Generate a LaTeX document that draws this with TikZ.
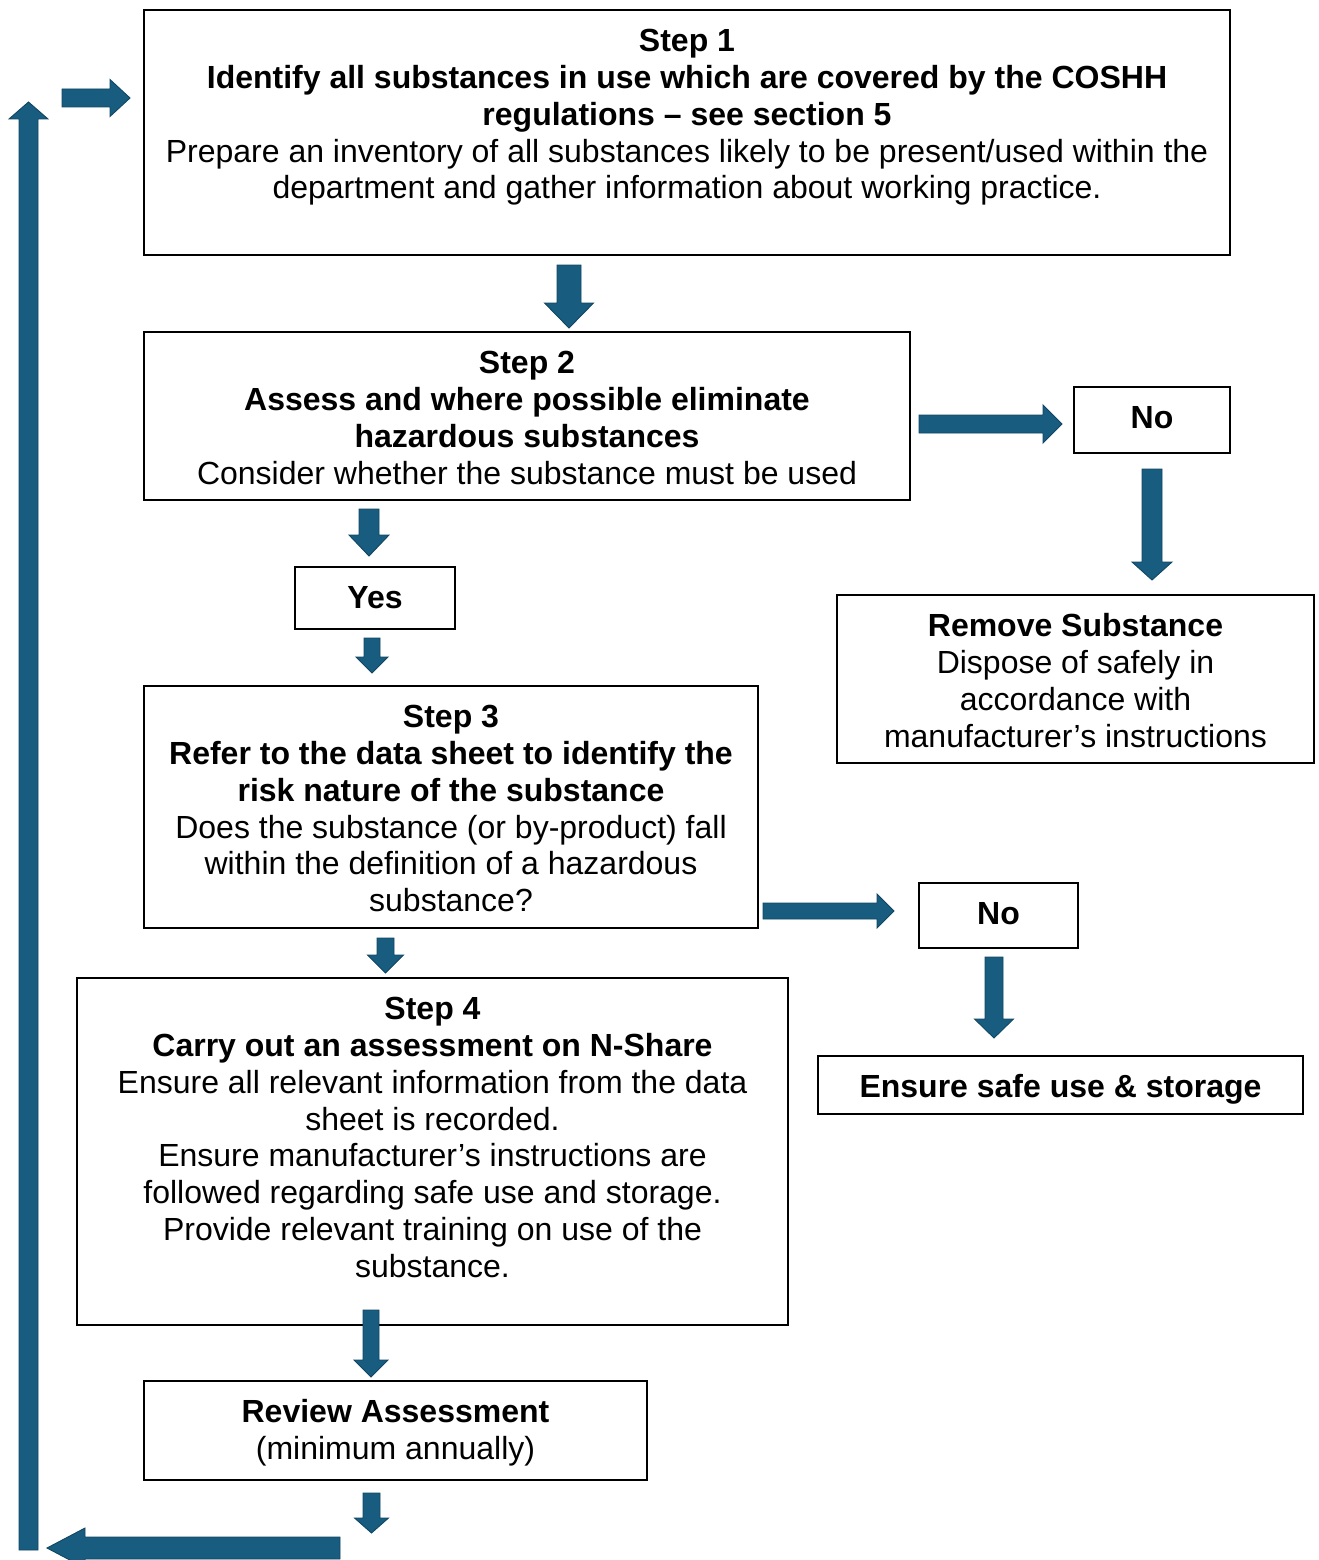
\documentclass[tikz,border=0pt]{standalone}
\usepackage{fontspec}
\setmainfont{Liberation Sans}
\definecolor{arrfill}{RGB}{24,93,128}
\definecolor{arrline}{RGB}{16,70,98}
\newcommand\bxt[3]{\parbox[c][#2pt][t]{#1pt}{\centering\vspace*{16pt}\strut#3}}
\newcommand\arrD[6]{\draw[blk] ({#1-#2},#3) -- ({#1+#2},#3) -- ({#1+#2},#4) -- ({#1+#5},#4) -- (#1,#6) -- ({#1-#5},#4) -- ({#1-#2},#4) -- cycle;}
\newcommand\arrR[6]{\draw[blk] (#3,{#1-#2}) -- (#3,{#1+#2}) -- (#4,{#1+#2}) -- (#4,{#1+#5}) -- (#6,#1) -- (#4,{#1-#5}) -- (#4,{#1-#2}) -- cycle;}
\begin{document}
\begin{tikzpicture}[x=1pt,y=-1pt,
  box/.style={draw=black, line width=1.6pt, inner sep=0pt, outer sep=0pt},
  blk/.style={fill=arrfill, draw=arrline, line width=0.9pt, line join=miter},
  font=\fontsize{32}{36.8}\selectfont]
\useasboundingbox (0,0) rectangle (1319,1560);
\node[box] (s1) at (687,132.5) {\bxt{1086}{245}{\textbf{Step 1}\\\textbf{Identify all substances in use which are covered by the COSHH}\\\textbf{regulations – see section 5}\\Prepare an inventory of all substances likely to be present/used within the\\department and gather information about working practice.}};
\node[box] (s2) at (527,416) {\bxt{766}{168}{\textbf{Step 2}\\\textbf{Assess and where possible eliminate}\\\textbf{hazardous substances}\\Consider whether the substance must be used}};
\node[box] (no1) at (1152,420) {\bxt{156}{66}{\textbf{No}}};
\node[box] (rm) at (1075.5,679) {\bxt{477}{168}{\textbf{Remove Substance}\\Dispose of safely in\\accordance with\\manufacturer’s instructions}};
\node[box] (yes) at (375,598) {\bxt{160}{62}{\textbf{Yes}}};
\node[box] (s3) at (451,807) {\bxt{614}{242}{\textbf{Step 3}\\\textbf{Refer to the data sheet to identify the}\\\textbf{risk nature of the substance}\\Does the substance (or by-product) fall\\within the definition of a hazardous\\substance?}};
\node[box] (no2) at (998.5,915.5) {\bxt{159}{65}{\textbf{No}}};
\node[box] (ens) at (1060.5,1085) {\bxt{485}{58}{\textbf{Ensure safe use \& storage}}};
\node[box] (s4) at (432.5,1151.5) {\bxt{711}{347}{\textbf{Step 4}\\\textbf{Carry out an assessment on N-Share}\\Ensure all relevant information from the data\\sheet is recorded.\\Ensure manufacturer’s instructions are\\followed regarding safe use and storage.\\Provide relevant training on use of the\\substance.}};
\node[box] (rev) at (395.5,1430.5) {\bxt{503}{99}{\textbf{Review Assessment}\\(minimum annually)}};
% down arrows
\arrD{569}{12}{265}{303}{24.5}{328}
\arrD{369}{10}{509}{535}{20}{556}
\arrD{372}{8}{638}{657}{16}{673}
\arrD{385.5}{8.5}{938}{955}{18}{973}
\arrD{371}{8}{1310}{1360}{17}{1377}
\arrD{371.5}{8.5}{1493}{1518}{17}{1533}
\arrD{1152}{10}{469}{562}{20}{580}
\arrD{994}{9}{957}{1019}{19.5}{1038}
% right arrows
\arrR{424}{9}{919}{1043}{19}{1062}
\arrR{911}{8}{763}{877}{17}{894}
\arrR{98}{9}{62}{110}{18.5}{130}
% loop: left and up
\arrR{1548}{11}{340}{85}{20}{47}
\arrD{28.5}{9.5}{1550}{119}{19.5}{102}
\end{tikzpicture}
\end{document}
